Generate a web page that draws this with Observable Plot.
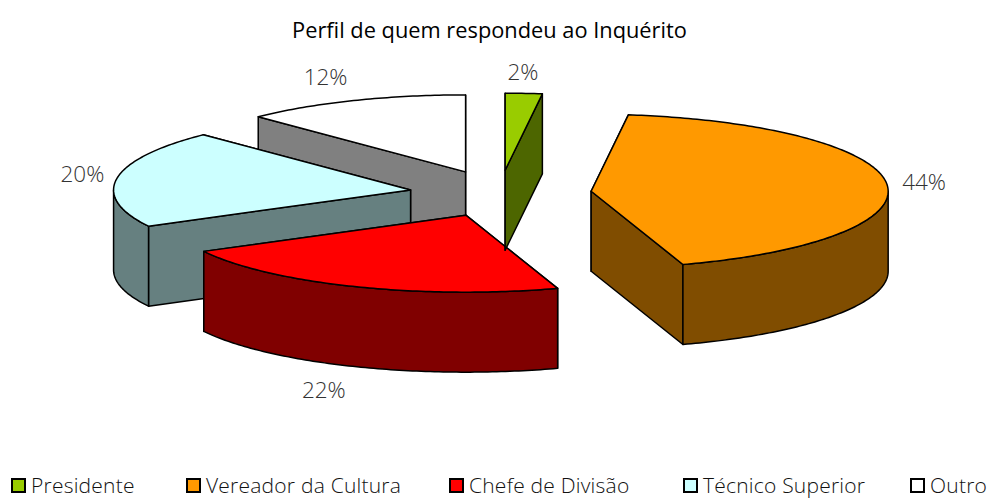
<!DOCTYPE html>
<html><head><meta charset="utf-8">
<script src="https://cdn.jsdelivr.net/npm/d3@7"></script>
<script src="https://cdn.jsdelivr.net/npm/@observablehq/plot@0.6"></script>
<style>
html,body{margin:0;padding:0;background:#fff;width:989px;height:498px;overflow:hidden}
#title{height:50px;text-align:center;font:400 21.8px/60px "Open Sans",sans-serif;color:#000;box-sizing:border-box;padding-right:10px;white-space:nowrap}
#chart{height:410px}
#chart svg{display:block}
#legend{position:relative;height:38px;font:300 21px "Open Sans",sans-serif;color:#111;letter-spacing:.22px}
.item{position:absolute;top:12px;white-space:nowrap;display:flex;align-items:center;line-height:26px}
.sw{border:2px solid #000;margin-right:5px;box-sizing:border-box;width:15px;height:15px}
</style></head><body>
<div id="title">Perfil de quem respondeu ao Inquérito</div>
<div id="chart"></div>
<div id="legend"></div>
<script>
const categories = ["Presidente","Vereador da Cultura","Chefe de Divisão","Técnico Superior","Outro"];
const shownPercent = [2,44,22,20,12];
const shares = [2,43,22.2,20.5,12.3];
const topColors = ["#99CC00","#FF9900","#FF0000","#CCFFFF","#FFFFFF"];
const wallColors = ["#4D6600","#804D00","#800000","#668080","#808080"];
const legendLeft = [11,186,449,683,910];
const explodeBy = [0.303,0.31,0.303,0.303,0.303];
const labelNudgeX = [-0.01,0.008,-0.06,0,-0.05];
const labelNudgeY = [-0.15,0,0.2,-0.03,-0.18];
const drawOrder = [4,3,2,0,1];

const W=989,H=410,TOP=50;
const rx=297, ry=77, cxPx=499, cyPx=193;
const wall=80/ry, labelR=1.118;

const total=d3.sum(shares);
let acc=0; const slices=shares.map((s,i)=>{const a0=acc/total*2*Math.PI; acc+=s; const a1=acc/total*2*Math.PI; return {i,a0,a1,mid:(a0+a1)/2};});
const pt=(a,r=1)=>[r*Math.sin(a),-r*Math.cos(a)];

const faces=[];
let fid=0;
function addFace(points,fill,order,sub){const id=fid++;points.forEach(p=>faces.push({x:p[0],y:p[1],id,fill,order,sub}));}
function arc(a0,a1,cx,cy){const n=Math.max(2,Math.ceil((a1-a0)/0.015));return d3.range(n+1).map(k=>{const a=a0+(a1-a0)*k/n;const p=pt(a);return [cx+p[0],cy+p[1]];});}
drawOrder.forEach((idx,ord)=>{
  const s=slices[idx];
  const [ex,ey]=pt(s.mid,explodeBy[idx]);
  const wallOf=pts=>pts.concat(pts.slice().reverse().map(p=>[p[0],p[1]+wall]));
  const rad0=[[ex,ey],[ex+pt(s.a0)[0],ey+pt(s.a0)[1]]];
  const rad1=[[ex,ey],[ex+pt(s.a1)[0],ey+pt(s.a1)[1]]];
  const walls=[wallOf(rad0),wallOf(rad1)];
  const lo=Math.max(s.a0,Math.PI/2), hi=Math.min(s.a1,1.5*Math.PI);
  if(hi>lo) walls.push(wallOf(arc(lo,hi,ex,ey)));
  walls.sort((a,b)=>d3.mean(a,p=>p[1])-d3.mean(b,p=>p[1]));
  walls.forEach((w,k)=>addFace(w,wallColors[idx],ord,k));
  addFace([[ex,ey],...arc(s.a0,s.a1,ex,ey)],topColors[idx],ord,9);
});

const labels=slices.map(s=>{
  const [ex,ey]=pt(s.mid,explodeBy[s.i]); const p=pt(s.mid,labelR);
  return {x:ex+p[0]+labelNudgeX[s.i], y:ey+p[1]+labelNudgeY[s.i]+(Math.cos(s.mid)<-0.5?wall:0), t:shownPercent[s.i]+"%"};
});

const faceIds=d3.groups(faces,d=>d.id).map(d=>d[1]);
const plot=Plot.plot({
  width:W,height:H,margin:0,
  x:{domain:[-cxPx/rx,(W-cxPx)/rx],range:[0,W],axis:null},
  y:{domain:[(TOP-cyPx)/ry,(TOP+H-cyPx)/ry],range:[0,H],axis:null},
  style:{background:"#fff"},
  marks:[
    ...faceIds.map(f=>Plot.line(f.concat([f[0]]),{x:"x",y:"y",fill:f[0].fill,stroke:"#000",strokeWidth:1.5,curve:"linear",strokeLinejoin:"round"})),
    Plot.text(labels,{x:"x",y:"y",text:"t",fontSize:22.5,fontWeight:300,fontFamily:"Open Sans",fill:"#333",textAnchor:"middle"})
  ]
});
document.getElementById("chart").append(plot);

const leg=document.getElementById("legend");
categories.forEach((c,i)=>{
  const el=document.createElement("div");el.className="item";el.style.left=legendLeft[i]+"px";
  const sw=document.createElement("span");sw.className="sw";sw.style.background=topColors[i];
  const t=document.createElement("span");t.textContent=c;
  el.append(sw,t);leg.append(el);
});
</script>
</body></html>
